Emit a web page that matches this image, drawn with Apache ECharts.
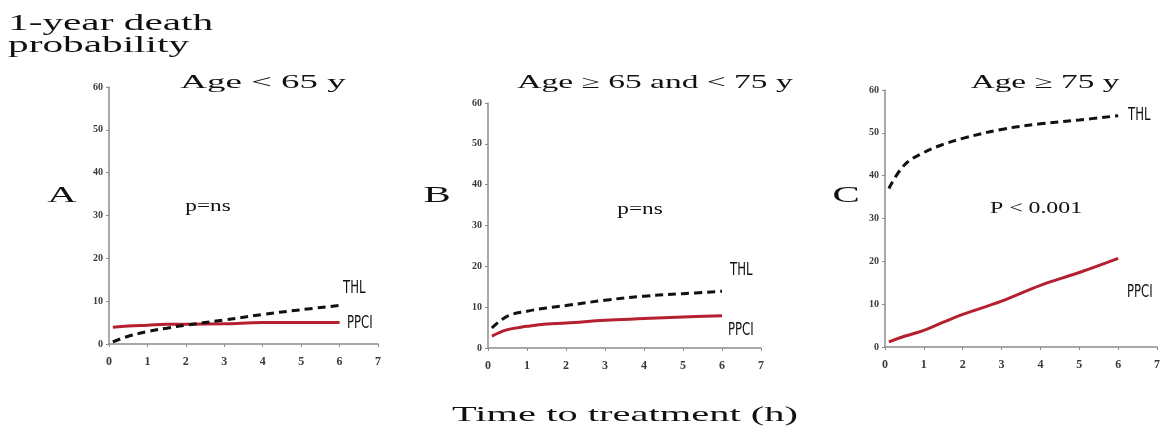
<!DOCTYPE html>
<html>
<head>
<meta charset="utf-8">
<script src="https://cdn.jsdelivr.net/npm/echarts@6/dist/echarts.min.js"></script>
<style>
  html, body { margin: 0; padding: 0; background: #fff; }
  #chart { width: 1163px; height: 432px; }
</style>
</head>
<body>
<div id="chart"></div>
<script>
// Time to treatment (hours) at which the curves are sampled
const hours = [0.1, 0.5, 1, 1.5, 2, 3, 4, 5, 6];

// 1-year death probability (%) by age group
const thlUnder65   = [0.5, 1.8, 2.9, 3.7, 4.4, 5.6, 6.9, 8.0, 9.0];
const ppciUnder65  = [3.9, 4.2, 4.4, 4.6, 4.6, 4.7, 5.0, 5.0, 5.0];
const thl65to75    = [4.9, 7.8, 9.0, 9.8, 10.4, 11.7, 12.7, 13.3, 13.9];
const ppci65to75   = [2.9, 4.5, 5.3, 5.9, 6.1, 6.8, 7.2, 7.6, 7.9];
const thlOver75    = [37.0, 42.5, 45.4, 47.3, 48.7, 50.8, 52.1, 53.0, 54.0];
const ppciOver75   = [1.2, 2.5, 3.9, 5.8, 7.6, 10.7, 14.4, 17.4, 20.7];

const panelTitles = ['Age < 65 y', 'Age \u2265 65 and < 75 y', 'Age \u2265 75 y'];
const panelLetters = ['A', 'B', 'C'];
const pValues = ['p=ns', 'p=ns', 'P < 0.001'];

const panels = [
  { thl: thlUnder65, ppci: ppciUnder65, grid: { left: 109, top: 87, width: 269, height: 257 } },
  { thl: thl65to75,  ppci: ppci65to75,  grid: { left: 488, top: 103, width: 273, height: 245 } },
  { thl: thlOver75,  ppci: ppciOver75,  grid: { left: 885, top: 90, width: 272, height: 257 } }
];

const serif = '"Liberation Serif", "DejaVu Serif", serif';
const narrow = '"Liberation Sans Narrow", "DejaVu Sans Condensed", "Liberation Sans", sans-serif';
const axisGray = '#8c8c8c';
const red = '#b5202e';

const pairs = vals => hours.map((h, i) => [h, vals[i]]);

const grids = [], xAxes = [], yAxes = [], series = [];
panels.forEach((p, i) => {
  grids.push(Object.assign({}, p.grid));
  xAxes.push({
    type: 'value', gridIndex: i, min: 0, max: 7, interval: 1,
    axisLine: { show: true, lineStyle: { color: axisGray, width: 1.5 } },
    axisTick: { show: true, length: 3, lineStyle: { color: axisGray } },
    splitLine: { show: false },
    axisLabel: { color: '#3a3a3a', fontFamily: serif, fontSize: 12, fontWeight: 'bold', margin: 12 }
  });
  yAxes.push({
    type: 'value', gridIndex: i, min: 0, max: 60, interval: 10,
    axisLine: { show: true, lineStyle: { color: axisGray, width: 1.5 } },
    axisTick: { show: true, length: 3, lineStyle: { color: axisGray } },
    splitLine: { show: false },
    axisLabel: { color: '#3a3a3a', fontFamily: serif, fontSize: 10, fontWeight: 'bold', margin: 6 }
  });
  series.push({
    name: 'PPCI', type: 'line', xAxisIndex: i, yAxisIndex: i,
    data: pairs(p.ppci), smooth: 0.4, symbol: 'none',
    lineStyle: { color: red, width: 3 }, z: 2
  });
  series.push({
    name: 'THL', type: 'line', xAxisIndex: i, yAxisIndex: i,
    data: pairs(p.thl), smooth: 0.4, symbol: 'none',
    lineStyle: { color: '#111', width: 3, type: [8, 5] }, z: 3
  });
});

// Stretched text helper: x/y is the anchor, sx widens the glyphs
function label(text, x, y, font, sx, align, sy) {
  return {
    type: 'text', x: x, y: y, scaleX: sx || 1, scaleY: sy || 1,
    style: { text: text, font: font, fill: '#111', textAlign: align || 'left', textVerticalAlign: 'middle' }
  };
}

const titleCenters = [[263, 83], [655, 83.5], [1045, 83]];
const titleScale = [2.05, 1.86, 1.85];
const letterPos = [[62, 196], [437, 196], [846, 196]];
const pPos = [[208, 207], [640, 210], [1036, 208.5]];
const pFont = ['16px ', '16px ', '17px '];
const pScale = [1.45, 1.45, 1.4];
const thlPos = [[343, 288], [730, 270], [1128, 115]];
const ppciPos = [[347, 323], [728, 330], [1127, 292]];

const graphics = [
  label('1-year death', 8, 24, '24px ' + serif, 1.72),
  label('probability', 8, 46, '24px ' + serif, 1.72),
  label('Time to treatment (h)', 625, 415.5, '22px ' + serif, 1.84, 'center')
];
for (let i = 0; i < 3; i++) {
  graphics.push(label(panelTitles[i], titleCenters[i][0], titleCenters[i][1], '18px ' + serif, titleScale[i], 'center'));
  graphics.push(label(panelLetters[i], letterPos[i][0], letterPos[i][1], '24px ' + serif, 1.7, 'center'));
  graphics.push(label(pValues[i], pPos[i][0], pPos[i][1], pFont[i] + serif, pScale[i], 'center'));
  graphics.push(label('THL', thlPos[i][0], thlPos[i][1], '13px ' + narrow, 1, 'left', 1.35));
  graphics.push(label('PPCI', ppciPos[i][0], ppciPos[i][1], '13px ' + narrow, 1, 'left', 1.35));
}

const chart = echarts.init(document.getElementById('chart'));
chart.setOption({
  animation: false,
  backgroundColor: '#fff',
  grid: grids,
  xAxis: xAxes,
  yAxis: yAxes,
  series: series,
  graphic: graphics
});
</script>
</body>
</html>
